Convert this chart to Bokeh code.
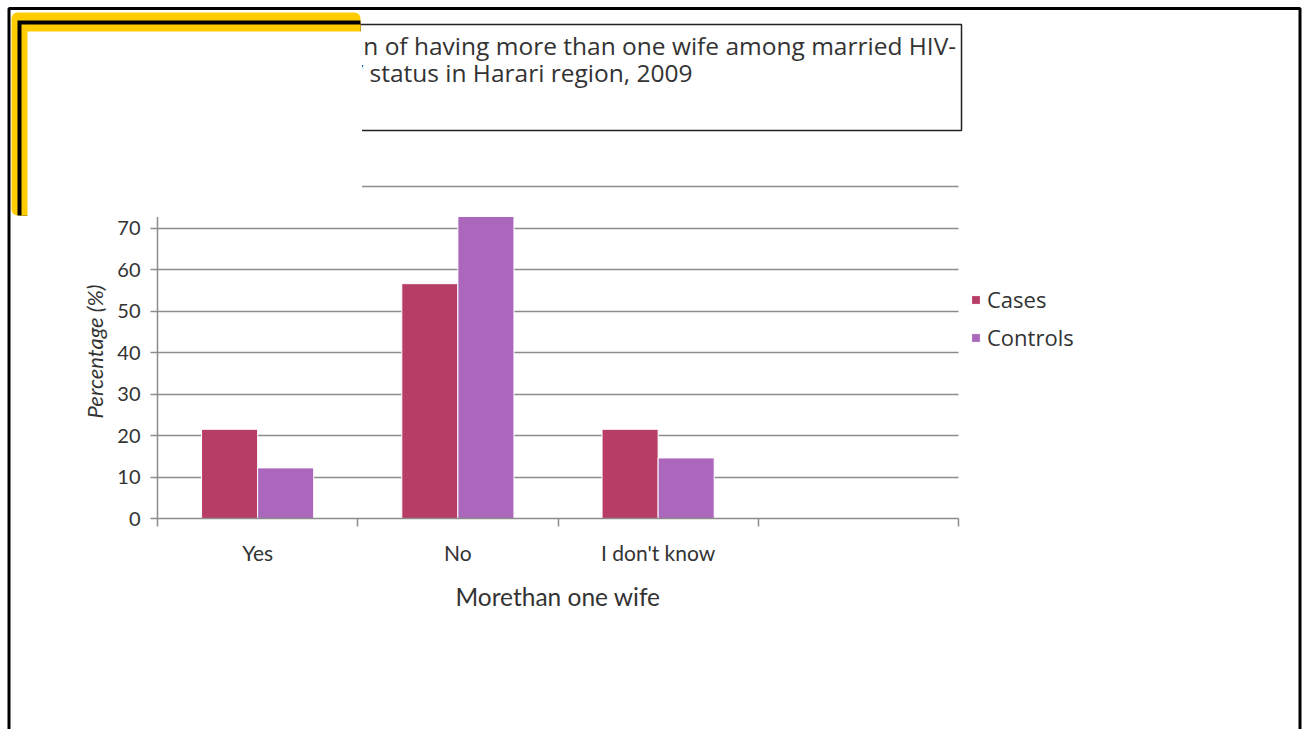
from bokeh.plotting import figure
from bokeh.models import (Range1d, LinearAxis, FixedTicker,
                          Legend, LegendItem, ColumnDataSource)
from bokeh.core.properties import value
from bokeh.transform import dodge
from bokeh.embed import file_html
from bokeh.resources import INLINE

# ---------------- data ----------------
bar_categories = ["Yes", "No", "I don't know"]
n_slots = 4  # the category axis has one empty slot at the right
cases = [21.5, 56.6, 21.5]
controls = [12.2, 72.8, 14.6]
series_names = ["Cases", "Controls"]
y_ticks = [0, 10, 20, 30, 40, 50, 60, 70, 80]
x_title = "Morethan one wife"
y_title = "Percentage (%)"
title_lines = ["on of having more than one wife among married HIV-",
               "V status in Harari region, 2009"]

# ---------------- style ----------------
FONT = "Lato"
FONT2 = "Open Sans"
TEXT = "#333333"
GRAY = "#8c8c8c"
C_CASES = "#B83D66"
C_CONTROLS = "#AB67BC"
YELLOW = "#FFCC00"

W, H = 1306, 729
Y_TOP = 80.5
AXL, AXR, FB = 157, 958, 518          # axis extent / frame bottom in page pixels
PX_PER_Y = (518 - 186) / 80.0
FT = round(FB - Y_TOP * PX_PER_Y)
FR = 1150                              # frame extends right so the legend is not clipped
PX_PER_X = (AXR - AXL) / n_slots
X_END = n_slots + (FR - AXR) / PX_PER_X

centers = [i + 0.5 for i in range(len(bar_categories))]
src = ColumnDataSource(dict(pos=centers, cat=bar_categories, cases=cases, controls=controls))

p = figure(width=W, height=H,
           x_range=Range1d(0, X_END), y_range=Range1d(0, Y_TOP),
           output_backend="svg", toolbar_location=None,
           x_axis_location=None, y_axis_location="left",
           min_border_left=AXL, min_border_right=W - FR,
           min_border_top=FT, min_border_bottom=H - FB)
p.title.visible = False
p.outline_line_color = None
p.background_fill_color = "white"
p.border_fill_color = "white"

# page-pixel coordinate system for the slide decorations
p.extra_x_ranges = {"px": Range1d(AXL, FR)}
p.extra_y_ranges = {"py": Range1d(FB, FT)}

# bars
r_cases = p.vbar(x=dodge("pos", -0.14), top="cases", width=0.28, source=src,
                 fill_color=C_CASES, line_color="white", line_width=1)
r_ctrl = p.vbar(x=dodge("pos", 0.14), top="controls", width=0.28, source=src,
                fill_color=C_CONTROLS, line_color="white", line_width=1)

# y axis
ya = p.yaxis[0]
ya.ticker = FixedTicker(ticks=y_ticks)
ya.axis_line_color = GRAY
ya.axis_line_width = 1.5
ya.major_tick_line_color = GRAY
ya.major_tick_line_width = 1.5
ya.major_tick_in = 0
ya.major_tick_out = 7
ya.minor_tick_line_color = None
ya.major_label_text_font = FONT
ya.major_label_text_font_size = "20px"
ya.major_label_text_color = TEXT
ya.major_label_standoff = 10
ya.axis_label = y_title
ya.axis_label_text_font = FONT
ya.axis_label_text_font_size = "22px"
ya.axis_label_text_font_style = "italic"
ya.axis_label_text_color = TEXT
ya.axis_label_standoff = 6

p.ygrid.ticker = FixedTicker(ticks=y_ticks)
p.ygrid.grid_line_color = GRAY
p.ygrid.grid_line_width = 1.5
p.ygrid.cross_bounds = (0, n_slots)
for g in p.xgrid:
    g.visible = False

# x axis: boundary ticks between categories
bnd_axis = LinearAxis(ticker=FixedTicker(ticks=list(range(n_slots + 1))), bounds=(0, n_slots),
                      major_label_overrides={i: "" for i in range(n_slots + 1)},
                      major_label_text_font_size="1px", major_label_standoff=0,
                      major_tick_in=0, major_tick_out=8, minor_tick_line_color=None,
                      axis_line_color=GRAY, axis_line_width=1.5,
                      major_tick_line_color=GRAY, major_tick_line_width=1.5)
p.add_layout(bnd_axis, "below")

# x axis: category labels
cat_axis = LinearAxis(ticker=FixedTicker(ticks=centers), bounds=(0, n_slots),
                      major_label_overrides={c: lab for c, lab in zip(centers, bar_categories)},
                      axis_line_color=None, major_tick_line_color=None,
                      major_tick_in=0, major_tick_out=0, minor_tick_line_color=None,
                      major_label_text_font=FONT, major_label_text_font_size="21px",
                      major_label_text_color=TEXT, major_label_standoff=13)
p.add_layout(cat_axis, "below")

# x axis title, centred under the category axis (not under the wider frame)
xt_src = ColumnDataSource(dict(x=[n_slots / 2], y=[596], text=[x_title]))
p.text(x="x", y="y", text="text", source=xt_src, y_range_name="py", level="overlay",
       text_font=value(FONT), text_font_size="24.5px", text_color=TEXT,
       text_align="center", text_baseline="middle")

# legend
legend = Legend(items=[LegendItem(label=series_names[0], renderers=[r_cases]),
                       LegendItem(label=series_names[1], renderers=[r_ctrl])],
                location=(813, 166), orientation="vertical",
                glyph_width=11, glyph_height=11, label_standoff=6, spacing=8,
                padding=0, margin=0, border_line_color=None, background_fill_alpha=0,
                label_text_font=FONT2, label_text_font_size="22px", label_text_color=TEXT)
p.add_layout(legend, "center")

# ---------------- slide decorations (page-pixel coordinates, drawn on top) ----------------
def rect(l, r, t, b, **kw):
    return p.quad(left=l, right=r, top=t, bottom=b, x_range_name="px", y_range_name="py",
                  level="overlay", **kw)

# title box + title text
rect(200, 961, 24, 130, fill_alpha=0, line_color="#222222", line_width=1.5)
title_src = ColumnDataSource(dict(x=[348] * len(title_lines),
                                  y=[45 + 27 * i for i in range(len(title_lines))],
                                  text=title_lines))
p.text(x="x", y="y", text="text", source=title_src, x_range_name="px", y_range_name="py",
       level="overlay", text_font=value(FONT2), text_font_size="24.5px",
       text_color=TEXT, text_baseline="middle")

# slide border
rect(8.5, 1299.5, 8, 760, fill_alpha=0, line_color="black", line_width=3)

# corner ornament
rect(11, 360, 12, 215, fill_color=YELLOW, line_color=None, border_radius=6)
rect(17, 360, 20, 215, fill_color="black", line_color=None)
rect(21, 360, 24, 215, fill_color=YELLOW, line_color=None)
rect(27, 361.5, 31, 216.5, fill_color="white", line_color=None)

open("out.html", "w").write(file_html(p, INLINE))
